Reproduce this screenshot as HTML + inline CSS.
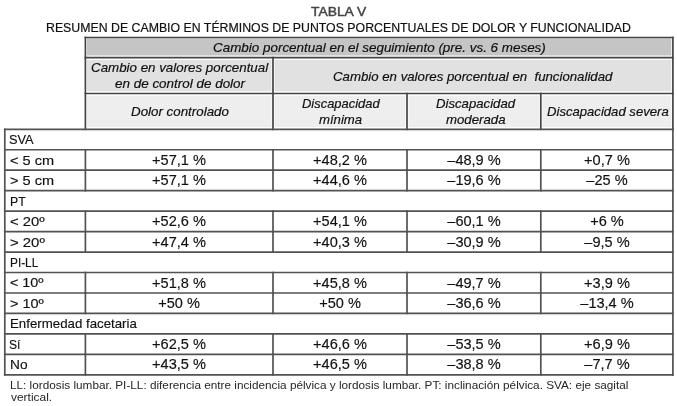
<!DOCTYPE html>
<html><head><meta charset="utf-8"><title>Tabla V</title>
<style>
html,body{margin:0;padding:0;background:#fff;}
body{width:677px;height:406px;position:relative;overflow:hidden;font-family:"Liberation Sans",Arial,sans-serif;color:#111;}
svg{position:absolute;left:0;top:0;}
.t{position:absolute;white-space:pre;line-height:1;transform-origin:0 0;}
</style></head><body>
<svg width="677" height="406" viewBox="0 0 677 406">
<rect x="87.00" y="38.40" width="584.30" height="17.10" fill="#c5c5c5"/>
<rect x="87.00" y="59.90" width="184.40" height="31.40" fill="#e1e1e1"/>
<rect x="274.60" y="59.90" width="396.70" height="31.40" fill="#e1e1e1"/>
<rect x="87.00" y="95.70" width="184.40" height="31.40" fill="#eeeeee"/>
<rect x="274.60" y="95.70" width="130.80" height="31.40" fill="#eeeeee"/>
<rect x="408.60" y="95.70" width="130.60" height="31.40" fill="#eeeeee"/>
<rect x="542.40" y="95.70" width="128.90" height="31.40" fill="#eeeeee"/>
<g stroke="#444" stroke-width="1.7" fill="none">
<line x1="84.55" y1="37.50" x2="673.75" y2="37.50"/>
<line x1="84.55" y1="57.70" x2="673.75" y2="57.70"/>
<line x1="84.55" y1="93.50" x2="673.75" y2="93.50"/>
<line x1="85.40" y1="36.65" x2="85.40" y2="130.15"/>
<line x1="672.90" y1="36.65" x2="672.90" y2="130.15"/>
<line x1="273.00" y1="56.85" x2="273.00" y2="130.15"/>
<line x1="407.00" y1="92.65" x2="407.00" y2="130.15"/>
<line x1="540.80" y1="92.65" x2="540.80" y2="130.15"/>
</g>
<g stroke="#525252" stroke-width="1.7" fill="none">
<line x1="3.95" y1="129.30" x2="673.75" y2="129.30"/>
<line x1="3.95" y1="149.76" x2="673.75" y2="149.76"/>
<line x1="3.95" y1="170.22" x2="673.75" y2="170.22"/>
<line x1="3.95" y1="190.68" x2="673.75" y2="190.68"/>
<line x1="3.95" y1="211.14" x2="673.75" y2="211.14"/>
<line x1="3.95" y1="231.60" x2="673.75" y2="231.60"/>
<line x1="3.95" y1="252.06" x2="673.75" y2="252.06"/>
<line x1="3.95" y1="272.52" x2="673.75" y2="272.52"/>
<line x1="3.95" y1="292.98" x2="673.75" y2="292.98"/>
<line x1="3.95" y1="313.44" x2="673.75" y2="313.44"/>
<line x1="3.95" y1="333.90" x2="673.75" y2="333.90"/>
<line x1="3.95" y1="354.36" x2="673.75" y2="354.36"/>
<line x1="3.95" y1="374.82" x2="673.75" y2="374.82"/>
<line x1="4.80" y1="128.45" x2="4.80" y2="375.67"/>
<line x1="672.90" y1="128.45" x2="672.90" y2="375.67"/>
<line x1="85.40" y1="148.91" x2="85.40" y2="171.07"/>
<line x1="273.00" y1="148.91" x2="273.00" y2="171.07"/>
<line x1="407.00" y1="148.91" x2="407.00" y2="171.07"/>
<line x1="540.80" y1="148.91" x2="540.80" y2="171.07"/>
<line x1="85.40" y1="169.37" x2="85.40" y2="191.53"/>
<line x1="273.00" y1="169.37" x2="273.00" y2="191.53"/>
<line x1="407.00" y1="169.37" x2="407.00" y2="191.53"/>
<line x1="540.80" y1="169.37" x2="540.80" y2="191.53"/>
<line x1="85.40" y1="210.29" x2="85.40" y2="232.45"/>
<line x1="273.00" y1="210.29" x2="273.00" y2="232.45"/>
<line x1="407.00" y1="210.29" x2="407.00" y2="232.45"/>
<line x1="540.80" y1="210.29" x2="540.80" y2="232.45"/>
<line x1="85.40" y1="230.75" x2="85.40" y2="252.91"/>
<line x1="273.00" y1="230.75" x2="273.00" y2="252.91"/>
<line x1="407.00" y1="230.75" x2="407.00" y2="252.91"/>
<line x1="540.80" y1="230.75" x2="540.80" y2="252.91"/>
<line x1="85.40" y1="271.67" x2="85.40" y2="293.83"/>
<line x1="273.00" y1="271.67" x2="273.00" y2="293.83"/>
<line x1="407.00" y1="271.67" x2="407.00" y2="293.83"/>
<line x1="540.80" y1="271.67" x2="540.80" y2="293.83"/>
<line x1="85.40" y1="292.13" x2="85.40" y2="314.29"/>
<line x1="273.00" y1="292.13" x2="273.00" y2="314.29"/>
<line x1="407.00" y1="292.13" x2="407.00" y2="314.29"/>
<line x1="540.80" y1="292.13" x2="540.80" y2="314.29"/>
<line x1="85.40" y1="333.05" x2="85.40" y2="355.21"/>
<line x1="273.00" y1="333.05" x2="273.00" y2="355.21"/>
<line x1="407.00" y1="333.05" x2="407.00" y2="355.21"/>
<line x1="540.80" y1="333.05" x2="540.80" y2="355.21"/>
<line x1="85.40" y1="353.51" x2="85.40" y2="375.67"/>
<line x1="273.00" y1="353.51" x2="273.00" y2="375.67"/>
<line x1="407.00" y1="353.51" x2="407.00" y2="375.67"/>
<line x1="540.80" y1="353.51" x2="540.80" y2="375.67"/>
</g>
</svg>
<div class="t" style="top:5.04px;font-size:13.3px;color:#444;-webkit-text-stroke:0.45px;left:311.00px;transform:scaleX(1.0415);">TABLA V</div>
<div class="t" style="top:20.70px;font-size:13px;-webkit-text-stroke:0.2px;left:46.15px;transform:scaleX(0.9474);">RESUMEN DE CAMBIO EN TÉRMINOS DE PUNTOS PORCENTUALES DE DOLOR Y FUNCIONALIDAD</div>
<div class="t" style="top:41.00px;font-size:13px;font-style:italic;-webkit-text-stroke:0.2px;left:212.87px;transform:scaleX(1.0327);">Cambio porcentual en el seguimiento (pre. vs. 6 meses)</div>
<div class="t" style="top:61.40px;font-size:13px;font-style:italic;-webkit-text-stroke:0.2px;left:90.97px;transform:scaleX(1.0256);">Cambio en valores porcentual</div>
<div class="t" style="top:76.90px;font-size:13px;font-style:italic;-webkit-text-stroke:0.2px;left:114.80px;transform:scaleX(1.0341);">en de control de dolor</div>
<div class="t" style="top:69.70px;font-size:13px;font-style:italic;-webkit-text-stroke:0.2px;left:333.38px;transform:scaleX(1.0175);">Cambio en valores porcentual en  funcionalidad</div>
<div class="t" style="top:105.00px;font-size:13px;font-style:italic;-webkit-text-stroke:0.2px;left:131.00px;transform:scaleX(1.0263);">Dolor controlado</div>
<div class="t" style="top:97.00px;font-size:13px;font-style:italic;-webkit-text-stroke:0.2px;left:301.70px;transform:scaleX(0.9949);">Discapacidad</div>
<div class="t" style="top:112.50px;font-size:13px;font-style:italic;-webkit-text-stroke:0.2px;left:319.40px;transform:scaleX(1.0119);">mínima</div>
<div class="t" style="top:97.00px;font-size:13px;font-style:italic;-webkit-text-stroke:0.2px;left:435.70px;transform:scaleX(1.0128);">Discapacidad</div>
<div class="t" style="top:112.50px;font-size:13px;font-style:italic;-webkit-text-stroke:0.2px;left:445.70px;transform:scaleX(1.0172);">moderada</div>
<div class="t" style="top:104.50px;font-size:13px;font-style:italic;-webkit-text-stroke:0.2px;left:547.30px;transform:scaleX(1.0083);">Discapacidad severa</div>
<div class="t" style="top:133.23px;font-size:13px;-webkit-text-stroke:0.15px;left:9.32px;transform:scaleX(0.9833);">SVA</div>
<div class="t" style="top:153.69px;font-size:13px;-webkit-text-stroke:0.15px;left:9.58px;transform:scaleX(1.1184);">&lt; 5 cm</div>
<div class="t" style="top:152.84px;font-size:14px;-webkit-text-stroke:0.15px;left:-220.80px;width:800px;text-align:center;transform:scaleX(1.0400);transform-origin:50% 0;">+57,1 %</div>
<div class="t" style="top:152.84px;font-size:14px;-webkit-text-stroke:0.15px;left:-60.00px;width:800px;text-align:center;transform:scaleX(1.0400);transform-origin:50% 0;">+48,2 %</div>
<div class="t" style="top:152.84px;font-size:14px;-webkit-text-stroke:0.15px;left:73.90px;width:800px;text-align:center;transform:scaleX(1.0400);transform-origin:50% 0;">–48,9 %</div>
<div class="t" style="top:152.84px;font-size:14px;-webkit-text-stroke:0.15px;left:206.85px;width:800px;text-align:center;transform:scaleX(1.0400);transform-origin:50% 0;">+0,7 %</div>
<div class="t" style="top:174.15px;font-size:13px;-webkit-text-stroke:0.15px;left:9.58px;transform:scaleX(1.1184);">&gt; 5 cm</div>
<div class="t" style="top:173.30px;font-size:14px;-webkit-text-stroke:0.15px;left:-220.80px;width:800px;text-align:center;transform:scaleX(1.0400);transform-origin:50% 0;">+57,1 %</div>
<div class="t" style="top:173.30px;font-size:14px;-webkit-text-stroke:0.15px;left:-60.00px;width:800px;text-align:center;transform:scaleX(1.0400);transform-origin:50% 0;">+44,6 %</div>
<div class="t" style="top:173.30px;font-size:14px;-webkit-text-stroke:0.15px;left:73.90px;width:800px;text-align:center;transform:scaleX(1.0400);transform-origin:50% 0;">–19,6 %</div>
<div class="t" style="top:173.30px;font-size:14px;-webkit-text-stroke:0.15px;left:206.85px;width:800px;text-align:center;transform:scaleX(1.0400);transform-origin:50% 0;">–25 %</div>
<div class="t" style="top:194.61px;font-size:13px;-webkit-text-stroke:0.15px;left:9.66px;transform:scaleX(0.9437);">PT</div>
<div class="t" style="top:215.07px;font-size:13px;-webkit-text-stroke:0.15px;left:9.76px;transform:scaleX(1.1414);">&lt; 20º</div>
<div class="t" style="top:214.22px;font-size:14px;-webkit-text-stroke:0.15px;left:-220.80px;width:800px;text-align:center;transform:scaleX(1.0400);transform-origin:50% 0;">+52,6 %</div>
<div class="t" style="top:214.22px;font-size:14px;-webkit-text-stroke:0.15px;left:-60.00px;width:800px;text-align:center;transform:scaleX(1.0400);transform-origin:50% 0;">+54,1 %</div>
<div class="t" style="top:214.22px;font-size:14px;-webkit-text-stroke:0.15px;left:73.90px;width:800px;text-align:center;transform:scaleX(1.0400);transform-origin:50% 0;">–60,1 %</div>
<div class="t" style="top:214.22px;font-size:14px;-webkit-text-stroke:0.15px;left:206.85px;width:800px;text-align:center;transform:scaleX(1.0400);transform-origin:50% 0;">+6 %</div>
<div class="t" style="top:235.53px;font-size:13px;-webkit-text-stroke:0.15px;left:9.66px;transform:scaleX(1.1448);">&gt; 20º</div>
<div class="t" style="top:234.68px;font-size:14px;-webkit-text-stroke:0.15px;left:-220.80px;width:800px;text-align:center;transform:scaleX(1.0400);transform-origin:50% 0;">+47,4 %</div>
<div class="t" style="top:234.68px;font-size:14px;-webkit-text-stroke:0.15px;left:-60.00px;width:800px;text-align:center;transform:scaleX(1.0400);transform-origin:50% 0;">+40,3 %</div>
<div class="t" style="top:234.68px;font-size:14px;-webkit-text-stroke:0.15px;left:73.90px;width:800px;text-align:center;transform:scaleX(1.0400);transform-origin:50% 0;">–30,9 %</div>
<div class="t" style="top:234.68px;font-size:14px;-webkit-text-stroke:0.15px;left:206.85px;width:800px;text-align:center;transform:scaleX(1.0400);transform-origin:50% 0;">–9,5 %</div>
<div class="t" style="top:255.99px;font-size:13px;-webkit-text-stroke:0.15px;left:9.89px;transform:scaleX(0.9100);">PI-LL</div>
<div class="t" style="top:276.45px;font-size:13px;-webkit-text-stroke:0.15px;left:9.80px;transform:scaleX(1.1034);">&lt; 10º</div>
<div class="t" style="top:275.60px;font-size:14px;-webkit-text-stroke:0.15px;left:-220.80px;width:800px;text-align:center;transform:scaleX(1.0400);transform-origin:50% 0;">+51,8 %</div>
<div class="t" style="top:275.60px;font-size:14px;-webkit-text-stroke:0.15px;left:-60.00px;width:800px;text-align:center;transform:scaleX(1.0400);transform-origin:50% 0;">+45,8 %</div>
<div class="t" style="top:275.60px;font-size:14px;-webkit-text-stroke:0.15px;left:73.90px;width:800px;text-align:center;transform:scaleX(1.0400);transform-origin:50% 0;">–49,7 %</div>
<div class="t" style="top:275.60px;font-size:14px;-webkit-text-stroke:0.15px;left:206.85px;width:800px;text-align:center;transform:scaleX(1.0400);transform-origin:50% 0;">+3,9 %</div>
<div class="t" style="top:296.91px;font-size:13px;-webkit-text-stroke:0.15px;left:9.59px;transform:scaleX(1.1103);">&gt; 10º</div>
<div class="t" style="top:296.06px;font-size:14px;-webkit-text-stroke:0.15px;left:-220.80px;width:800px;text-align:center;transform:scaleX(1.0400);transform-origin:50% 0;">+50 %</div>
<div class="t" style="top:296.06px;font-size:14px;-webkit-text-stroke:0.15px;left:-60.00px;width:800px;text-align:center;transform:scaleX(1.0400);transform-origin:50% 0;">+50 %</div>
<div class="t" style="top:296.06px;font-size:14px;-webkit-text-stroke:0.15px;left:73.90px;width:800px;text-align:center;transform:scaleX(1.0400);transform-origin:50% 0;">–36,6 %</div>
<div class="t" style="top:296.06px;font-size:14px;-webkit-text-stroke:0.15px;left:206.85px;width:800px;text-align:center;transform:scaleX(1.0400);transform-origin:50% 0;">–13,4 %</div>
<div class="t" style="top:317.37px;font-size:13px;-webkit-text-stroke:0.15px;left:9.68px;transform:scaleX(1.0203);">Enfermedad facetaria</div>
<div class="t" style="top:337.83px;font-size:13px;-webkit-text-stroke:0.15px;left:9.47px;transform:scaleX(0.9273);">Sí</div>
<div class="t" style="top:336.98px;font-size:14px;-webkit-text-stroke:0.15px;left:-220.80px;width:800px;text-align:center;transform:scaleX(1.0400);transform-origin:50% 0;">+62,5 %</div>
<div class="t" style="top:336.98px;font-size:14px;-webkit-text-stroke:0.15px;left:-60.00px;width:800px;text-align:center;transform:scaleX(1.0400);transform-origin:50% 0;">+46,6 %</div>
<div class="t" style="top:336.98px;font-size:14px;-webkit-text-stroke:0.15px;left:73.90px;width:800px;text-align:center;transform:scaleX(1.0400);transform-origin:50% 0;">–53,5 %</div>
<div class="t" style="top:336.98px;font-size:14px;-webkit-text-stroke:0.15px;left:206.85px;width:800px;text-align:center;transform:scaleX(1.0400);transform-origin:50% 0;">+6,9 %</div>
<div class="t" style="top:358.29px;font-size:13px;-webkit-text-stroke:0.15px;left:9.65px;transform:scaleX(1.0533);">No</div>
<div class="t" style="top:357.44px;font-size:14px;-webkit-text-stroke:0.15px;left:-220.80px;width:800px;text-align:center;transform:scaleX(1.0400);transform-origin:50% 0;">+43,5 %</div>
<div class="t" style="top:357.44px;font-size:14px;-webkit-text-stroke:0.15px;left:-60.00px;width:800px;text-align:center;transform:scaleX(1.0400);transform-origin:50% 0;">+46,5 %</div>
<div class="t" style="top:357.44px;font-size:14px;-webkit-text-stroke:0.15px;left:73.90px;width:800px;text-align:center;transform:scaleX(1.0400);transform-origin:50% 0;">–38,8 %</div>
<div class="t" style="top:357.44px;font-size:14px;-webkit-text-stroke:0.15px;left:206.85px;width:800px;text-align:center;transform:scaleX(1.0400);transform-origin:50% 0;">–7,7 %</div>
<div class="t" style="top:380.29px;font-size:11px;color:#262626;left:9.73px;transform:scaleX(1.0695);">LL: lordosis lumbar. PI-LL: diferencia entre incidencia pélvica y lordosis lumbar. PT: inclinación pélvica. SVA: eje sagital</div>
<div class="t" style="top:392.49px;font-size:11px;color:#262626;left:10.80px;transform:scaleX(1.0865);">vertical.</div>
</body></html>
